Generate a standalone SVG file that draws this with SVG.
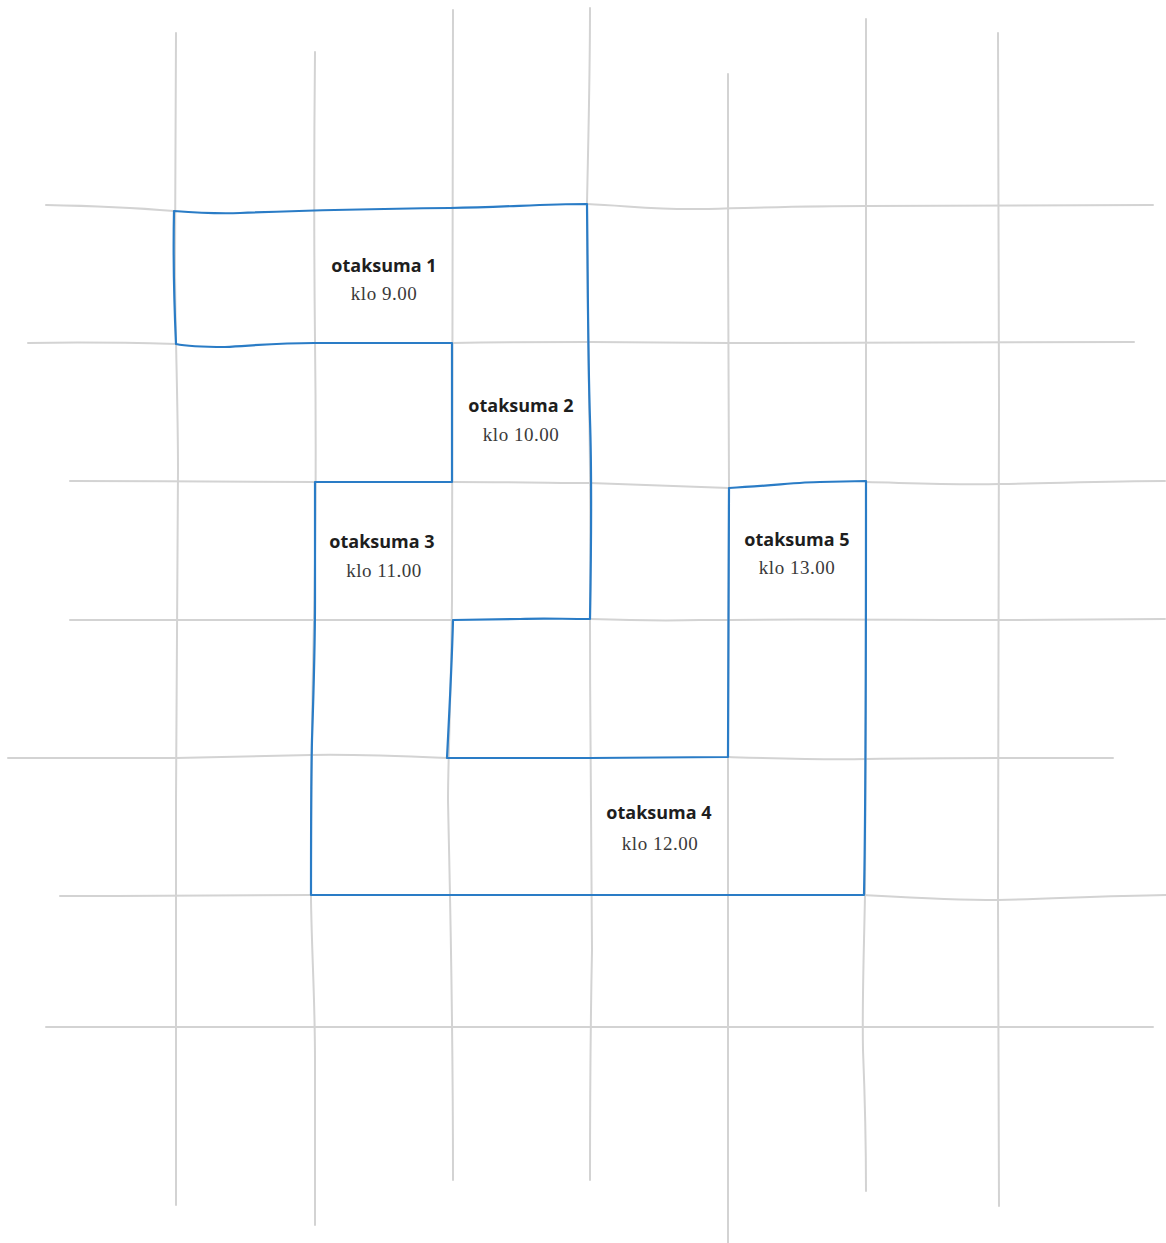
<svg xmlns="http://www.w3.org/2000/svg" width="1166" height="1243" viewBox="0 0 1166 1243">
<style>
.grid{fill:none;stroke:#d3d3d3;stroke-width:2;stroke-linecap:round}
.zone{fill:none;stroke:#2a7cc6;stroke-width:2.2;stroke-linejoin:round}
.title{font-family:"Open Sans","Noto Sans","Liberation Sans",sans-serif;font-weight:700;font-size:18px;fill:#1e1e1e;text-anchor:middle}
.time{font-family:"Liberation Serif","DejaVu Serif",serif;font-size:19px;letter-spacing:0.5px;fill:#3a3a3a;text-anchor:middle}
</style>
<rect width="1166" height="1243" fill="#ffffff"/>
<g id="grid">
  <!-- vertical -->
  <path class="grid" d="M176 33 C176 120 175 200 175 260 C175 330 178 400 178 470 C178 600 176 700 176 800 C176 950 176 1100 176 1205"/>
  <path class="grid" d="M315 52 C314 150 314 250 315 340 C316 420 316 520 314 620 C312 700 311 800 311 900 C312 960 315 1000 315 1060 L315 1225"/>
  <path class="grid" d="M453 10 C452 200 452 400 452 600 C451 700 448 760 448 800 C450 900 453 1000 453 1180"/>
  <path class="grid" d="M590 8 C590 80 588 150 587 204 C588 400 592 480 590 620 C590 750 592 900 592 950 C590 1050 590 1100 590 1180"/>
  <path class="grid" d="M728 74 C728 200 728 400 729 488 C729 600 728 700 728 757 L728 1243"/>
  <path class="grid" d="M866 19 C866 200 866 400 866 482 C866 600 866 800 865 895 C864 950 862 1000 863 1050 C865 1100 866 1150 866 1191"/>
  <path class="grid" d="M998 33 C998 200 999 300 999 400 C998 600 998 800 998 900 C998 1000 999 1100 999 1206"/>
  <!-- horizontal -->
  <path class="grid" d="M46 205 C100 206 150 209 174 211 M587 204 C630 206 660 210 700 209 C750 208 800 206 866 206 L1153 205"/>
  <path class="grid" d="M28 343 C80 342 140 343 176 344 M452 343 C520 342 560 342 590 342 C640 342 690 343 730 343 L1134 342"/>
  <path class="grid" d="M70 481 C150 481 250 482 315 482 M452 482 C520 482 560 483 590 483 C640 485 690 487 729 488 M866 482 C910 483 950 485 1000 484 C1060 483 1110 481 1165 481"/>
  <path class="grid" d="M70 620 C150 620 250 620 314 620 L453 620 M590 619 C620 620 660 621 700 620 C800 619 900 620 1000 620 L1165 619"/>
  <path class="grid" d="M8 758 C100 758 150 758 176 758 C230 757 280 756 311 755 C350 754 400 756 447 758 M728 757 C760 758 820 760 866 759 C920 758 960 758 1000 758 L1113 758"/>
  <path class="grid" d="M60 896 C150 896 250 896 311 895 M864 895 C900 897 950 900 998 900 C1050 899 1100 896 1166 895"/>
  <path class="grid" d="M46 1027 C300 1027 700 1027 1153 1027"/>
</g>
<g id="zones">
  <path class="zone" d="M174 211 C200 213 215 214 240 213 C290 211 360 209 450 208 C510 207 540 204 587 204
    C588 300 588 360 590 420 C592 480 591 560 590 619
    C560 619 545 618 520 619 L453 620
    C452 660 450 700 447 758
    L590 758 L728 757
    C728 680 729 560 729 488
    C770 486 800 482 820 482 L866 481
    C866 600 866 800 864 895
    L311 895
    C311 820 311 780 312 740 C314 680 315 640 315 600 L315 482
    L452 482 L452 343
    L314 343 C280 343 260 345 225 347 C200 347 185 346 176 344
    C174 300 173 260 174 211 Z"/>
</g>
<g id="otaksuma1">
  <text class="title" x="384" y="272">otaksuma 1</text>
  <text class="time" x="384" y="300">klo 9.00</text>
</g>
<g id="otaksuma2">
  <text class="title" x="521" y="412">otaksuma 2</text>
  <text class="time" x="521" y="441">klo 10.00</text>
</g>
<g id="otaksuma3">
  <text class="title" x="382" y="548">otaksuma 3</text>
  <text class="time" x="384" y="577">klo 11.00</text>
</g>
<g id="otaksuma4">
  <text class="title" x="659" y="819">otaksuma 4</text>
  <text class="time" x="660" y="850">klo 12.00</text>
</g>
<g id="otaksuma5">
  <text class="title" x="797" y="546">otaksuma 5</text>
  <text class="time" x="797" y="574">klo 13.00</text>
</g>
</svg>
